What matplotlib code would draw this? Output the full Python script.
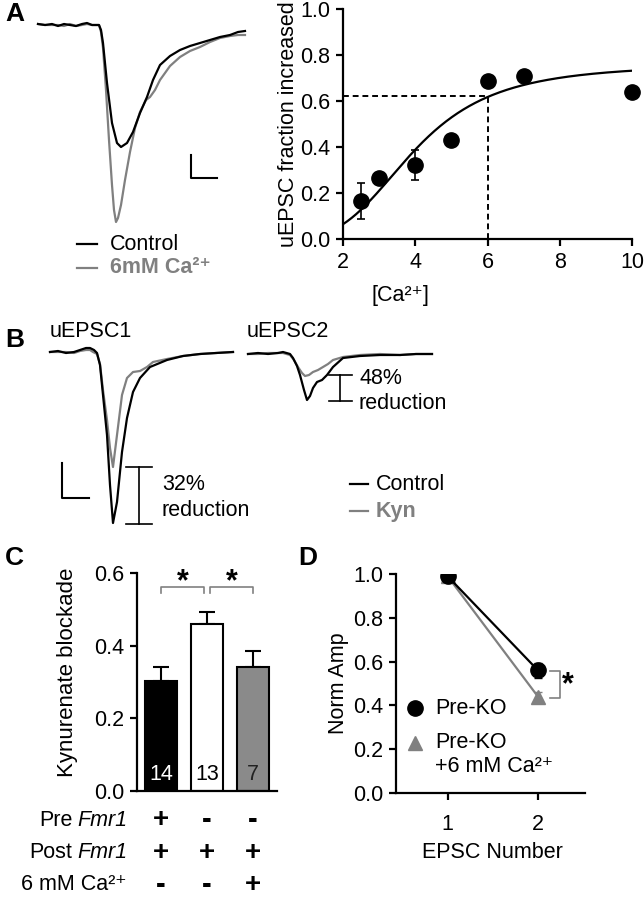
import numpy as np
import matplotlib
matplotlib.use("Agg")
import matplotlib.pyplot as plt
from matplotlib.lines import Line2D
from matplotlib.transforms import blended_transform_factory

# =====================
# Data
# =====================

# Panel A traces (time / amplitude, arbitrary units)
a_ctrl_t = [8, 15, 22, 28, 34, 40, 46, 52, 57, 62, 69, 71, 73, 77, 82, 87, 91, 97, 103,
            110, 117, 123, 130, 140, 150, 160, 170, 180, 190, 200, 208, 215]
a_ctrl = [1, 0, 1, -1, 1, 0, -1, 1, 2, 0, 0, -5, -18, -58, -98, -118, -122, -118, -107,
          -88, -72, -55, -40, -31, -25, -21, -18, -15, -12, -10, -7, -6]
a_ca_t = [8, 15, 22, 28, 34, 40, 46, 52, 57, 62, 69, 71, 73, 76, 79, 82, 84, 86, 88, 91,
          95, 100, 105, 110, 116, 120, 125, 130, 140, 150, 160, 170, 180, 190, 200, 208, 215]
a_ca = [1, 0, 0, 0, -1, 1, -1, 0, 1, 0, 0, -7, -23, -65, -115, -160, -185, -197, -193, -180,
        -155, -127, -103, -87, -75, -72, -65, -55, -41, -32, -26, -22, -17, -13, -11, -10, -10]

# Panel A dose response
ca_conc = [2.5, 3, 4, 5, 6, 7, 10]
frac_inc = [0.165, 0.265, 0.32, 0.43, 0.685, 0.71, 0.64]
frac_err = [0.08, 0, 0.065, 0, 0, 0, 0]
hill_ymax, hill_k, hill_n = 0.76, 3.95, 3.5
half_ca, half_frac = 6, 0.62

# Panel B traces
b1_ctrl_t = [5, 13, 21, 29, 35, 41, 45, 49, 52, 55, 58, 62, 65, 68, 72, 77, 82, 88, 95,
             105, 122, 138, 155, 171, 188]
b1_ctrl = [0, 1, -1, 0, 2, 4, 4, 2, -1, -13, -43, -83, -133, -171, -150, -100, -66, -40,
           -26, -15, -8, -4, -2, -1, 0]
b1_kyn_t = [5, 13, 21, 29, 35, 41, 45, 48, 52, 55, 58, 62, 65, 68, 72, 77, 82, 88, 95,
            102, 108, 122, 138, 155, 171, 188]
b1_kyn = [0, 0, 0, -1, 1, 2, 2, 0, -2, -12, -38, -68, -96, -115, -83, -43, -26, -20, -19,
          -15, -10, -7, -4, -2, -1, 0]
b2_ctrl_t = [203, 213, 223, 233, 238, 245, 248, 252, 255, 259, 262, 265, 268, 272, 277,
             282, 288, 298, 315, 335, 355, 371, 387]
b2_ctrl = [-2, -1, -2, -1, 0, -2, -6, -14, -23, -38, -48, -44, -36, -30, -28, -23, -15,
           -6, -4, -3, -3, -2, -2]
b2_kyn_t = [203, 213, 223, 233, 238, 245, 249, 253, 257, 260, 264, 268, 273, 278, 283,
            288, 298, 315, 335, 355, 371, 387]
b2_kyn = [-2, -2, -1, -1, -1, -3, -8, -15, -21, -24, -23, -20, -18, -15, -12, -8, -5, -3,
          -2, -3, -2, -2]

# Panel C bars
blockade = [0.303, 0.46, 0.34]
blockade_err = [0.038, 0.033, 0.044]
n_cells = ["14", "13", "7"]
pre_fmr1 = ["+", "-", "-"]
post_fmr1 = ["+", "+", "+"]
ca6 = ["-", "-", "+"]

# Panel D
epsc_num = [1, 2]
pre_ko = [0.99, 0.56]
pre_ko_err = [0, 0.035]
pre_ko_ca = [0.99, 0.44]
pre_ko_ca_err = [0, 0.02]

# =====================
# Style
# =====================

plt.rcParams["font.family"] = ["Liberation Sans", "DejaVu Sans"]

GRAY = "#808080"
FS = 15.5
W, H = 644, 900
CA = "Ca\u00b2\u207a"

fig = plt.figure(figsize=(W / 100, H / 100), dpi=100)
renderer = fig.canvas.get_renderer()


def px_axes(l, t, r, b):
    return fig.add_axes([l / W, 1 - b / H, (r - l) / W, (b - t) / H])


def ftext(x, y, s, **kw):
    kw.setdefault("va", "center")
    kw.setdefault("fontsize", FS)
    return fig.text(x / W, 1 - y / H, s, **kw)


def fline(xs, ys, **kw):
    fig.add_artist(Line2D([x / W for x in xs], [1 - y / H for y in ys], **kw))


def style(ax):
    for s in ["top", "right"]:
        ax.spines[s].set_visible(False)
    for s in ["left", "bottom"]:
        ax.spines[s].set_linewidth(1.6)
    ax.tick_params(width=1.6, length=5, labelsize=FS, pad=4)


def trace_axes(l, t, r, b, xlim, ylim):
    ax = px_axes(l, t, r, b)
    ax.set_xlim(*xlim)
    ax.set_ylim(*ylim)
    ax.axis("off")
    return ax


# =====================
# Panel A
# =====================

ax = trace_axes(30, 15, 250, 230, (0, 220), (-205, 10))
ax.plot(a_ca_t, a_ca, color=GRAY, lw=1.6)
ax.plot(a_ctrl_t, a_ctrl, color="k", lw=1.6)
ax.plot([161, 161, 187], [-130, -153, -153], color="k", lw=1.5)

fline([77, 97], [244, 244], color="k", lw=1.6)
fline([77, 97], [268, 268], color=GRAY, lw=1.6)
ftext(110, 244, "Control")
ftext(110, 268, "6mM " + CA, color=GRAY, fontweight="bold")

ax = px_axes(343, 9, 632, 239)
style(ax)
xs = np.linspace(2, 10, 200)
fit = hill_ymax * xs ** hill_n / (xs ** hill_n + hill_k ** hill_n)
ax.plot(xs, fit, color="k", lw=1.6)
ax.plot([2, half_ca], [half_frac, half_frac], color="k", lw=1.4, dashes=(3, 2))
ax.plot([half_ca, half_ca], [0, half_frac], color="k", lw=1.4, dashes=(3, 2))
ax.errorbar(ca_conc, frac_inc, yerr=frac_err, fmt="o", color="k", ms=11,
            capsize=3, elinewidth=1.2, capthick=1.2, clip_on=False, zorder=3)
ax.set_xlim(2, 10)
ax.set_ylim(0, 1)
ax.set_xticks([2, 4, 6, 8, 10])
ax.set_yticks([0, 0.2, 0.4, 0.6, 0.8, 1.0])
ax.set_yticklabels(["%.1f" % v for v in [0, 0.2, 0.4, 0.6, 0.8, 1.0]])
ftext(288, 124, "uEPSC fraction increased", rotation=90, ha="center")
ftext(400, 296, "[" + CA + "]", ha="center")

ftext(5, 14, "A", fontsize=19, fontweight="bold")

# =====================
# Panel B
# =====================

ax = trace_axes(45, 335, 440, 530, (0, 395), (-178, 17))
ax.plot(b1_kyn_t, b1_kyn, color=GRAY, lw=1.6)
ax.plot(b1_ctrl_t, b1_ctrl, color="k", lw=1.6)
ax.plot(b2_kyn_t, b2_kyn, color=GRAY, lw=1.6)
ax.plot(b2_ctrl_t, b2_ctrl, color="k", lw=1.6)
ax.plot([17, 17, 44], [-111, -146, -146], color="k", lw=1.5)
# reduction brackets
ax.plot([94, 94], [-115, -172], color="k", lw=1.2)
ax.plot([81, 107], [-115, -115], color="k", lw=1.2)
ax.plot([81, 107], [-172, -172], color="k", lw=1.2)
ax.plot([295, 295], [-23, -49], color="k", lw=1.2)
ax.plot([284, 307], [-23, -23], color="k", lw=1.2)
ax.plot([284, 307], [-49, -49], color="k", lw=1.2)

ftext(50, 332, "uEPSC1")
ftext(247, 332, "uEPSC2")
ftext(162, 485, "32%")
ftext(162, 510, "reduction")
ftext(359, 379, "48%")
ftext(359, 403, "reduction")

fline([350, 368], [484, 484], color="k", lw=1.6)
fline([350, 368], [511, 511], color=GRAY, lw=1.6)
ftext(376, 484, "Control")
ftext(376, 511, "Kyn", color=GRAY, fontweight="bold")

ftext(5, 340, "B", fontsize=19, fontweight="bold")

# =====================
# Panel C
# =====================

ax = px_axes(137, 573, 277, 791)
style(ax)
bar_x = [1, 2, 3]
ax.bar(bar_x, blockade, width=0.7, color=["k", "white", "#8a8a8a"],
       edgecolor="k", linewidth=1.5, zorder=2)
ax.errorbar(bar_x, blockade, yerr=[[0, 0, 0], blockade_err], fmt="none",
            ecolor="k", elinewidth=1.5, capsize=6, capthick=1.5, zorder=1)
for x, n, c in zip(bar_x, n_cells, ["white", "k", "#222222"]):
    ax.text(x, 0.045, n, ha="center", va="center", fontsize=FS, color=c)
ax.set_xlim(0.48, 3.52)
ax.set_ylim(0, 0.6)
ax.set_xticks([])
ax.set_yticks([0, 0.2, 0.4, 0.6])
ax.set_yticklabels(["%.1f" % v for v in [0, 0.2, 0.4, 0.6]])

# significance brackets
for x0, x1 in [(1, 1.935), (2.065, 3)]:
    ax.plot([x0, x0, x1, x1], [0.545, 0.561, 0.561, 0.545], color=GRAY, lw=1.2,
            clip_on=False)
    ax.text((x0 + x1) / 2, 0.575, "*", ha="center", va="center", fontsize=22,
            fontweight="bold", clip_on=False)

ftext(68, 672, "Kynurenate blockade", rotation=90, ha="center", fontsize=16)

tr = blended_transform_factory(ax.transData, fig.transFigure)
rows = [(820, "Pre", "Fmr1", pre_fmr1),
        (853, "Post", "Fmr1", post_fmr1),
        (885, "6 mM " + CA, "", ca6)]
for y, lab, gene, signs in rows:
    if gene:
        t_it = ftext(127, y, gene, ha="right", style="italic")
        x0 = t_it.get_window_extent(renderer=renderer).x0
        ftext(x0 - 4.5, y, lab, ha="right")
    else:
        ftext(127, y, lab, ha="right")
    for x, s in zip(bar_x, signs):
        ax.text(x, 1 - y / H, s, transform=tr, ha="center", va="center",
                fontsize=20 if s == "+" else 21, fontweight="bold")

ftext(5, 558, "C", fontsize=19, fontweight="bold")

# =====================
# Panel D
# =====================

ax = px_axes(396, 574, 585, 793)
style(ax)
ax.errorbar(epsc_num, pre_ko_ca, yerr=pre_ko_ca_err, fmt="-^", color=GRAY, ms=10,
            lw=1.6, capsize=3, elinewidth=1.2, zorder=2)
ax.errorbar(epsc_num, pre_ko, yerr=pre_ko_err, fmt="-o", color="k", ms=11,
            lw=1.6, capsize=3, elinewidth=1.2, zorder=3)
ax.plot([2.13, 2.24, 2.24, 2.13], [0.555, 0.555, 0.435, 0.435], color=GRAY, lw=1.2)
ax.text(2.33, 0.49, "*", ha="center", va="center", fontsize=22, fontweight="bold")
ax.set_xlim(0.43, 2.52)
ax.set_ylim(0, 1)
ax.set_xticks([1, 2])
ax.set_yticks([0, 0.2, 0.4, 0.6, 0.8, 1.0])
ax.set_yticklabels(["%.1f" % v for v in [0, 0.2, 0.4, 0.6, 0.8, 1.0]])
ax.tick_params(axis="x", pad=10)

fline([415], [708], marker="o", color="k", ms=11, lw=0)
fline([415], [743], marker="^", color=GRAY, ms=10, lw=0)
ftext(435, 708, "Pre-KO")
ftext(435, 743, "Pre-KO")
ftext(435, 767, "+6 mM " + CA)
ftext(492, 853, "EPSC Number", ha="center")
ftext(338, 683, "Norm Amp", rotation=90, ha="center")

ftext(298, 558, "D", fontsize=19, fontweight="bold")

plt.savefig("out.png", dpi=100)
